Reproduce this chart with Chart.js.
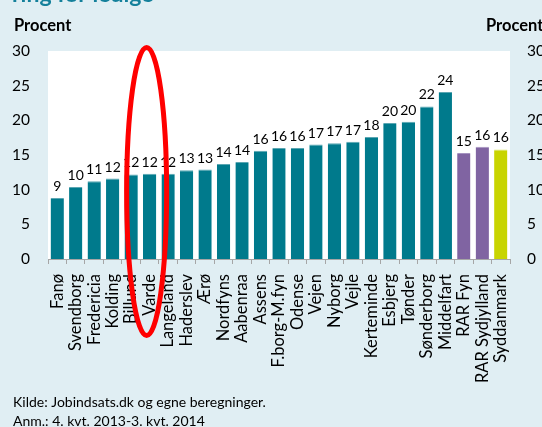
<!DOCTYPE html>
<html>
<head>
<meta charset="utf-8">
<script src="https://cdn.jsdelivr.net/npm/chart.js@4.4.1/dist/chart.umd.min.js"></script>
<style>
html,body{margin:0;padding:0;background:#E0EEF3;}
#wrap{width:542px;height:427px;}
</style>
</head>
<body>
<div id="wrap"><canvas id="c" width="542" height="427"></canvas></div>
<script>
//Data
    var kommuner = ["Fanø", "Svendborg", "Fredericia", "Kolding", "Billund", "Varde", "Langeland",
        "Haderslev", "Ærø", "Nordfyns", "Aabenraa", "Assens", "F.borg-M.fyn", "Odense", "Vejen",
        "Nyborg", "Vejle", "Kerteminde", "Esbjerg", "Tønder", "Sønderborg", "Middelfart",
        "RAR Fyn", "RAR Sydjylland", "Syddanmark"];
    var procent = [8.8, 10.4, 11.2, 11.6, 12.2, 12.3, 12.3, 12.8, 12.9, 13.7, 14.0, 15.6, 16.0,
        16.0, 16.5, 16.7, 16.9, 17.6, 19.6, 19.8, 22.0, 24.1, 15.3, 16.2, 15.8];
    //kommune / rar / region
    var niveau = ["k", "k", "k", "k", "k", "k", "k", "k", "k", "k", "k", "k", "k", "k", "k",
        "k", "k", "k", "k", "k", "k", "k", "rar", "rar", "region"];
    var yTicks = [0, 5, 10, 15, 20, 25, 30];

//Farver
    var farve = {k: "#007A8C", rar: "#8064A2", region: "#C8D400"};
    var kant = {k: "#5AA6B2", rar: "#A592C0", region: "#DCE566"};
    var fnt = "Lato";

//Baggrund, tekster og markering
    var pynt = {
        id: "pynt",
        beforeDraw: function(chart){
            var ctx = chart.ctx, a = chart.chartArea;
            ctx.save();
            ctx.fillStyle = "#E0EEF3";
            ctx.fillRect(0, 0, chart.width, chart.height);
            ctx.fillStyle = "#FFFFFF";
            ctx.fillRect(a.left, a.top, a.right - a.left, a.bottom - a.top);
            ctx.restore();
        },
        afterDatasetsDraw: function(chart){
            var ctx = chart.ctx;
            var meta = chart.getDatasetMeta(0);
            ctx.save();
            ctx.fillStyle = "#000";
            ctx.font = "14px " + fnt;
            ctx.textAlign = "center";
            ctx.textBaseline = "alphabetic";
            meta.data.forEach(function(bar, i){
                ctx.fillText(Math.round(procent[i]), bar.x, bar.y - 7);
            });
            ctx.restore();
        },
        afterDraw: function(chart){
            var ctx = chart.ctx;
            ctx.save();
            //titel (afskåret)
                ctx.fillStyle = "#14809B";
                ctx.font = "bold 23px " + fnt;
                ctx.textBaseline = "alphabetic";
                ctx.fillText("ring for ledige", 12, 2);
            //Procent
                ctx.fillStyle = "#000";
                ctx.font = "bold 16.5px " + fnt;
                ctx.fillText("Procent", 14, 31);
                ctx.fillText("Procent", 486, 31);
            //Kilde
                ctx.font = "14px " + fnt;
                ctx.fillText("Kilde: Jobindsats.dk og egne beregninger.", 13, 407);
                ctx.fillText("Anm.: 4. kvt. 2013-3. kvt. 2014", 13, 426);
            //Rød ellipse om Varde
                var x = chart.scales.x.getPixelForValue(5) - 3;
                ctx.strokeStyle = "#FF0000";
                ctx.lineWidth = 5;
                ctx.beginPath();
                ctx.ellipse(x, 191.5, 20, 144, 0, 0, Math.PI * 2);
                ctx.stroke();
            ctx.restore();
        }
    };

//Graf
    var yAkse = function(pos, pad, w){
        return {
            position: pos,
            min: 0, max: 30,
            afterBuildTicks: function(s){ s.ticks = yTicks.map(function(v){ return {value: v}; }); },
            afterFit: function(s){ s.width = w; },
            grid: {display: false, drawTicks: false},
            border: {display: false},
            ticks: {color: "#000", padding: pad, font: {family: fnt, size: 15.5}}
        };
    };

    new Chart(document.getElementById("c"), {
        type: "bar",
        data: {
            labels: kommuner,
            datasets: [{
                data: procent,
                backgroundColor: niveau.map(function(n){ return farve[n]; }),
                borderColor: niveau.map(function(n){ return kant[n]; }),
                borderWidth: {top: 1, left: 0, right: 0, bottom: 0},
                borderSkipped: "start",
                barPercentage: 0.72,
                categoryPercentage: 1
            }]
        },
        options: {
            responsive: false,
            animation: false,
            devicePixelRatio: 1,
            layout: {padding: {top: 51, left: 0, right: 0, bottom: 0}},
            plugins: {legend: {display: false}, tooltip: {enabled: false}},
            scales: {
                x: {
                    afterFit: function(s){ s.height = 168; },
                    grid: {display: true, drawOnChartArea: false, drawTicks: true, tickLength: 5, color: "#A6A6A6", offset: true},
                    border: {display: true, color: "#A6A6A6"},
                    ticks: {autoSkip: false, maxRotation: 90, minRotation: 90, padding: 10, color: "#000",
                        font: {family: fnt, size: 16.5}}
                },
                y: yAkse("left", 18, 48),
                y2: yAkse("right", 17, 32)
            }
        },
        plugins: [pynt]
    });
</script>
</body>
</html>
